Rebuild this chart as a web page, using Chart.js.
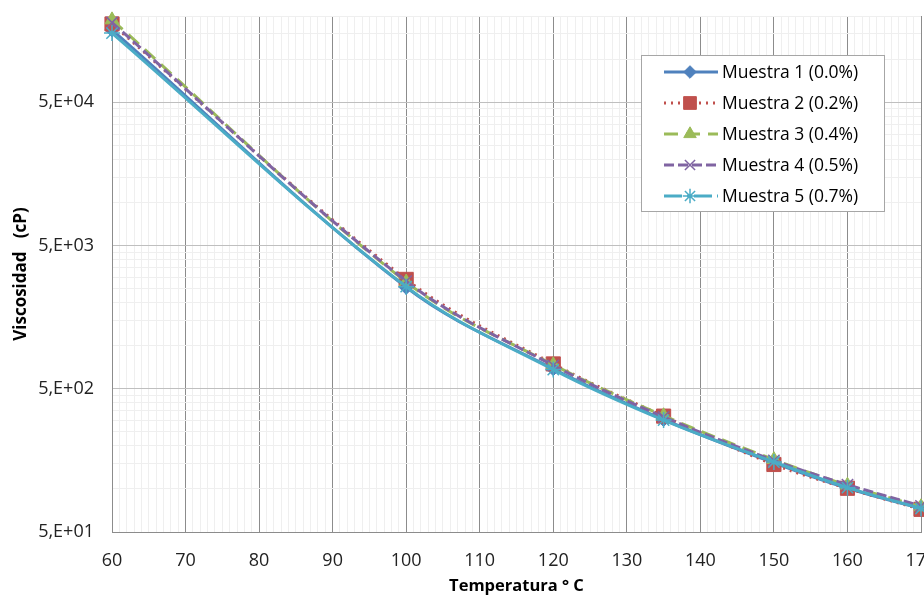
<!DOCTYPE html>
<html>
<head>
<meta charset="utf-8">
<script src="https://cdn.jsdelivr.net/npm/chart.js@4.4.0/dist/chart.umd.min.js"></script>
<style>
  html, body { margin: 0; padding: 0; background: #fff; overflow: hidden; }
  #wrap { width: 924px; height: 596px; overflow: hidden; }
</style>
</head>
<body>
<div id="wrap"><canvas id="viscChart" width="932" height="596"></canvas></div>
<script>
// temperatura (°C) de cada medida
const temps = [60, 100, 120, 135, 150, 160, 170];

// viscosidad (cP)
const muestra1 = [160000, 2550, 690, 305, 152, 101, 73];
const muestra2 = [176000, 2900, 745, 322, 148, 101, 72];
const muestra3 = [188000, 2780, 735, 324, 160, 106, 75];
const muestra4 = [180000, 2820, 728, 318, 158, 107, 76];
const muestra5 = [152000, 2580, 680, 302, 154, 102, 73];

const seriesNames = ['Muestra 1 (0.0%)', 'Muestra 2 (0.2%)', 'Muestra 3 (0.4%)', 'Muestra 4 (0.5%)', 'Muestra 5 (0.7%)'];

// ticks del eje y: 5E+n son principales, el resto secundarias
const yTicks = [];
for (let n = 1; n <= 4; n++) {
  for (let k = 1; k <= 9; k++) {
    const v = 5 * k * Math.pow(10, n);
    if (v <= 200000) yTicks.push(v);
  }
}

const colors = ['#4F81BD', '#C0504D', '#9BBB59', '#8064A2', '#4BACC6'];
const pointStyles = ['rectRot', 'rect', 'triangle', 'crossRot', 'star'];
const pointSizes = [7, 10, 8, 8, 8];
const dashes = [[], [2, 5], [14, 8], [10, 4], [18, 5, 2, 5]];
const values = [muestra1, muestra2, muestra3, muestra4, muestra5];

const datasets = values.map((vals, i) => ({
  label: seriesNames[i],
  data: temps.map((t, j) => ({ x: t, y: vals[j] })),
  borderColor: colors[i],
  backgroundColor: colors[i],
  borderWidth: 3,
  borderDash: i === 4 ? [] : dashes[i],
  legendDash: dashes[i],
  pointStyle: pointStyles[i],
  pointRadius: pointSizes[i],
  pointBorderColor: colors[i],
  pointBackgroundColor: colors[i],
  pointBorderWidth: i >= 3 ? 1.5 : 1,
  fill: false,
  clip: false,
  tension: 0.35,
  order: 4 - i
}));

const labelFont = { family: 'Open Sans', size: 18 };

// leyenda dibujada a mano (linea + marcador como en Excel)
const boxLegend = {
  id: 'boxLegend',
  afterDraw(chart) {
    const ctx = chart.ctx;
    const x0 = 641, y0 = 55, w = 243, h = 156;
    ctx.save();
    ctx.fillStyle = '#fff';
    ctx.fillRect(x0, y0, w, h);
    ctx.strokeStyle = '#A6A6A6';
    ctx.lineWidth = 1;
    ctx.strokeRect(x0 + 0.5, y0 + 0.5, w, h);
    chart.data.datasets.forEach((ds, i) => {
      const cy = 72 + i * 31;
      ctx.strokeStyle = ds.borderColor;
      ctx.lineWidth = 3;
      ctx.setLineDash(ds.legendDash);
      ctx.beginPath();
      ctx.moveTo(664, cy);
      ctx.lineTo(718, cy);
      ctx.stroke();
      ctx.setLineDash([]);
      ctx.fillStyle = ds.pointBackgroundColor;
      ctx.strokeStyle = ds.pointBorderColor;
      ctx.lineWidth = ds.pointBorderWidth;
      Chart.helpers.drawPoint(ctx, { pointStyle: ds.pointStyle, radius: ds.pointRadius * 0.9, rotation: 0, borderWidth: ds.pointBorderWidth }, 690, cy);
      ctx.fillStyle = '#000';
      ctx.font = '17.5px "Open Sans"';
      ctx.textBaseline = 'middle';
      ctx.textAlign = 'left';
      ctx.fillText(ds.label, 722, cy + 1);
    });
    ctx.restore();
  }
};

new Chart(document.getElementById('viscChart'), {
  type: 'line',
  data: { datasets },
  plugins: [boxLegend],
  options: {
    responsive: false,
    animation: false,
    layout: { padding: { top: 16, right: 0, left: 0, bottom: 0 } },
    plugins: {
      legend: { display: false },
      tooltip: { enabled: false }
    },
    scales: {
      x: {
        type: 'linear',
        min: 60,
        max: 170,
        title: {
          display: true,
          text: 'Temperatura ° C',
          color: '#000',
          font: { family: 'Open Sans', size: 16.5, weight: 'bold' },
          padding: { top: 0, bottom: 0 }
        },
        ticks: {
          stepSize: 1,
          autoSkip: false,
          maxRotation: 0,
          color: '#222',
          font: labelFont,
          padding: 18,
          callback: v => (v % 10 === 0 ? String(v) : '')
        },
        grid: {
          color: c => (c.tick && c.tick.value % 10 === 0 ? '#8C8C8C' : '#EFEFEF'),
          lineWidth: 1,
          drawTicks: false
        },
        border: { color: '#8C8C8C' },
        afterFit(scale) {
          scale.height = 64;
          scale.paddingLeft = 0;
          scale.paddingRight = 0;
        }
      },
      y: {
        type: 'logarithmic',
        min: 50,
        max: 200000,
        afterBuildTicks(scale) {
          scale.ticks = yTicks.map(v => ({ value: v }));
        },
        title: {
          display: true,
          text: 'Viscosidad   (cP)',
          color: '#000',
          font: { family: 'Open Sans', size: 17, weight: 'bold' },
          padding: { top: 11, bottom: 0 }
        },
        ticks: {
          autoSkip: false,
          color: '#222',
          font: labelFont,
          padding: 18,
          callback: v => {
            const e = Math.round(Math.log10(v / 5));
            return Math.abs(v - 5 * Math.pow(10, e)) < 1e-6 ? '5,E+' + String(e).padStart(2, '0') : '';
          }
        },
        grid: {
          color: c => {
            const v = c.tick ? c.tick.value : 0;
            const e = Math.round(Math.log10(v / 5));
            return Math.abs(v - 5 * Math.pow(10, e)) < 1e-6 ? '#BFBFBF' : '#EFEFEF';
          },
          lineWidth: 1,
          drawTicks: false
        },
        border: { color: '#8C8C8C' },
        afterFit(scale) {
          scale.width = 112;
          scale.paddingTop = 0;
          scale.paddingBottom = 0;
        }
      }
    }
  }
});
</script>
</body>
</html>
